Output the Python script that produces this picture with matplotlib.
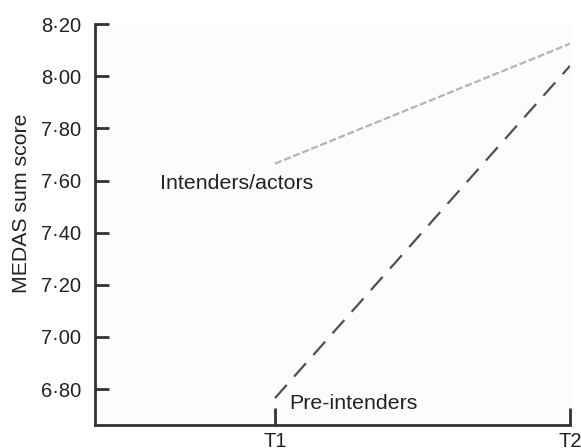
import matplotlib.pyplot as plt
from matplotlib.ticker import FuncFormatter

plt.rcParams['font.family'] = ['Liberation Sans', 'DejaVu Sans']

# Datos
tiempos = ['T1', 'T2']
x_pos = [1, 2]
intenders = [7.665, 8.125]
pre_intenders = [6.765, 8.04]
y_ticks = [6.80, 7.00, 7.20, 7.40, 7.60, 7.80, 8.00, 8.20]

fig = plt.figure(figsize=(5.81, 4.48), dpi=100)
ax = fig.add_axes([0.1635, 0.0513, 0.8175, 0.8947])
ax.set_facecolor('#fcfcfc')

# Lineas de cada grupo
ax.plot(x_pos, intenders, color='#b4b4b4', linewidth=1.6,
        dashes=(3.2, 1.2))
ax.plot(x_pos, pre_intenders, color='#505050', linewidth=1.6,
        dashes=(8, 5))

# Etiquetas de los grupos
ax.text(0.61, 7.59, 'Intenders/actors', ha='left', va='center',
        fontsize=15.4, color='#222222')
ax.text(1.048, 6.745, 'Pre-intenders', ha='left', va='center',
        fontsize=15.4, color='#222222')

ax.set_xlim(0.39, 2.0)
ax.set_ylim(6.662, 8.20)
ax.set_xticks(x_pos)
ax.set_xticklabels(tiempos)
ax.set_yticks(y_ticks)
ax.yaxis.set_major_formatter(FuncFormatter(
    lambda v, p: f'{v:.2f}'.replace('.', '\u00b7')))

ax.set_ylabel('MEDAS sum score', fontsize=15.3, color='#222222')
ax.yaxis.set_label_coords(-0.134, 0.554)

for s in ['top', 'right']:
    ax.spines[s].set_visible(False)
for s in ['left', 'bottom']:
    ax.spines[s].set_linewidth(2)
    ax.spines[s].set_color('#333333')

ax.tick_params(axis='y', direction='in', length=10, width=2,
               color='#333333', labelsize=14.5, labelcolor='#222222', pad=10)
ax.tick_params(axis='x', direction='in', length=12, width=2,
               color='#333333', labelsize=14.5, labelcolor='#222222', pad=5)

fig.savefig('out.png', dpi=100)
